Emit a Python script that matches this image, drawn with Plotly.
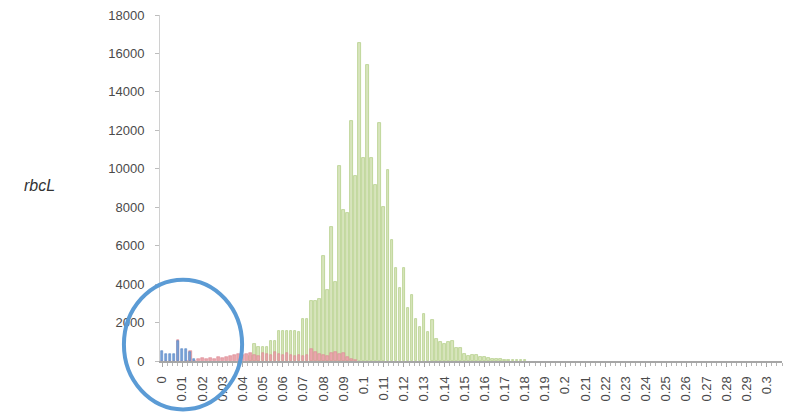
import plotly.graph_objects as go

# Histogram bins (width 0.002); each series lists counts from its first bin onward
BIN = 0.002

blue_start = 0.000
blue_counts = [510, 350, 340, 350, 1030, 650, 650, 460, 100]

red_start = 0.000
red_counts = [0, 0, 0, 0, 1080, 0, 0, 520, 0, 100,
              150, 120, 180, 100, 200, 150, 200, 250, 300, 350,
              300, 350, 400, 300, 250, 400, 350, 300, 450, 350,
              300, 400, 300, 250, 300, 250, 300, 650, 450, 350,
              300, 250, 400, 450, 350, 400, 200, 100, 50]

green_start = 0.044
green_counts = [250, 860, 720, 720, 720, 1030, 1030, 1580, 1580, 1580,
                1580, 1580, 1500, 2160, 2160, 3100, 3100, 3200, 5440, 3700,
                6990, 4100, 10150, 7870, 7700, 12460, 9600, 16530, 10570, 15400,
                10570, 9170, 12390, 8000, 9950, 6300, 4860, 3800, 4860, 2780,
                3450, 2160, 1790, 2420, 1530, 2120, 1170, 1000, 910, 1000,
                1030, 700, 700, 340, 250, 290, 290, 200, 200, 150,
                100, 100, 80, 60, 50, 50, 40, 40, 30]

x_tick_values = [0.00, 0.01, 0.02, 0.03, 0.04, 0.05, 0.06, 0.07, 0.08, 0.09,
                 0.10, 0.11, 0.12, 0.13, 0.14, 0.15, 0.16, 0.17, 0.18, 0.19,
                 0.20, 0.21, 0.22, 0.23, 0.24, 0.25, 0.26, 0.27, 0.28, 0.29, 0.30]
x_tick_labels = ["0", "0.01", "0.02", "0.03", "0.04", "0.05", "0.06", "0.07",
                 "0.08", "0.09", "0.1", "0.11", "0.12", "0.13", "0.14", "0.15",
                 "0.16", "0.17", "0.18", "0.19", "0.2", "0.21", "0.22", "0.23",
                 "0.24", "0.25", "0.26", "0.27", "0.28", "0.29", "0.3"]


def centers(start, counts):
    return [round(start + i * BIN, 4) for i in range(len(counts))]


fig = go.Figure()
fig.add_trace(go.Bar(
    x=centers(green_start, green_counts), y=green_counts, width=BIN * 0.65,
    marker=dict(color="#d7e4bd", line=dict(color="#b5cf8a", width=0.8)),
    name="green"))
fig.add_trace(go.Bar(
    x=centers(red_start, red_counts), y=red_counts, width=BIN * 0.65,
    marker=dict(color="#eaa6ad", line=dict(color="#dc8a93", width=0.6)),
    name="red"))
fig.add_trace(go.Bar(
    x=centers(blue_start, blue_counts), y=blue_counts, width=BIN * 0.6,
    marker=dict(color="#7aa3d8", line=dict(color="#5584c4", width=0.6)),
    name="blue"))

axis_font = dict(family="Liberation Sans", size=13, color="#4a4a4a")

fig.update_layout(
    width=791, height=412,
    margin=dict(l=160, r=9, t=15, b=50.5),
    paper_bgcolor="white", plot_bgcolor="white",
    barmode="overlay", bargap=0, showlegend=False,
    xaxis=dict(
        range=[-0.001, 0.3075],
        tickmode="array", tickvals=x_tick_values, ticktext=x_tick_labels,
        tickangle=-90, tickfont=axis_font, ticklabelstandoff=4,
        showgrid=False, zeroline=False,
        showline=True, linecolor="#a6a6a6", linewidth=2,
        ticks="outside", ticklen=4, tickcolor="#a6a6a6",
        minor=dict(dtick=0.0025, tick0=0, ticks="outside", ticklen=3,
                   tickcolor="#b5b5b5"),
    ),
    yaxis=dict(
        range=[0, 18000], dtick=2000, tickformat="d", tickfont=axis_font,
        showgrid=False, zeroline=False,
        showline=True, linecolor="#d0d0d0", linewidth=1,
        ticks="outside", ticklen=4, tickcolor="#bdbdbd",
        ticklabelstandoff=8,
    ),
    shapes=[dict(
        type="circle", xref="paper", yref="paper",
        x0=-0.058, x1=0.132, y0=-0.14, y1=0.235,
        line=dict(color="#5b9bd5", width=4),
    )],
    annotations=[dict(
        text="<i>rbcL</i>", xref="paper", yref="paper",
        x=-0.193, y=0.506, xanchor="center", yanchor="middle",
        showarrow=False,
        font=dict(family="Liberation Sans", size=16, color="#333333"),
    )],
)

fig.write_html("out.html")
